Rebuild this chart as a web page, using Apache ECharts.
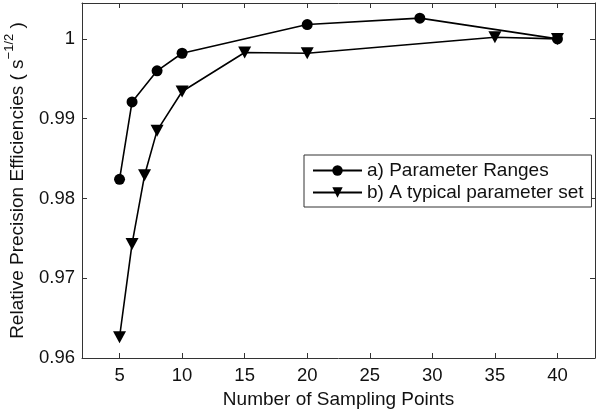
<!DOCTYPE html>
<html>
<head>
<meta charset="utf-8">
<script src="https://cdn.jsdelivr.net/npm/echarts@6/dist/echarts.min.js"></script>
<style>html,body{margin:0;padding:0;background:#fff}#c{width:600px;height:409px}</style>
</head>
<body>
<div id="c"></div>
<script>
var xA = [5, 6, 8, 10, 20, 29, 40];
var yA = [0.9824, 0.9921, 0.9960, 0.9982, 1.0018, 1.0026, 1.0000];
var xB = [5, 6, 7, 8, 10, 15, 20, 35, 40];
var yB = [0.9626, 0.9743, 0.9829, 0.9885, 0.9934, 0.9983, 0.9982, 1.0002, 1.0000];
var xTicks = [5, 10, 15, 20, 25, 30, 35, 40];
var yTicks = [0.96, 0.97, 0.98, 0.99, 1];
var nameA = 'a) Parameter Ranges';
var nameB = 'b) A typical parameter set';
var xTitle = 'Number of Sampling Points';

function pairs(xs, ys) { return xs.map(function (x, i) { return [x, ys[i]]; }); }

var font = 'Liberation Sans, Arial, sans-serif';
var axisCol = '#333';
var tickFs = 18.5, titleFs = 19;
var chart = echarts.init(document.getElementById('c'), null, {renderer: 'canvas'});
function xAxisCfg(pos, showLabel) {
  return {
    type: 'value', position: pos, min: 2, max: 43,
    axisLine: {show: true, onZero: false, lineStyle: {color: axisCol, width: 1}},
    axisTick: {show: true, inside: true, length: 5, customValues: xTicks, lineStyle: {color: axisCol}},
    axisLabel: {show: showLabel, customValues: xTicks, margin: 8, color: '#111', fontSize: tickFs, fontFamily: font},
    splitLine: {show: false}
  };
}
function yAxisCfg(pos, showLabel) {
  return {
    type: 'value', position: pos, min: 0.96, max: 1.0045,
    axisLine: {show: true, onZero: false, lineStyle: {color: axisCol, width: 1}},
    axisTick: {show: true, inside: true, length: 5, customValues: yTicks, lineStyle: {color: axisCol}},
    axisLabel: {show: showLabel, customValues: yTicks, margin: 7, color: '#111', fontSize: tickFs, fontFamily: font},
    splitLine: {show: false}
  };
}
var xb = xAxisCfg('bottom', true);
xb.name = xTitle; xb.nameLocation = 'middle'; xb.nameGap = 22;
xb.nameTextStyle = {fontSize: titleFs, color: '#111', fontFamily: font};
var xt = xAxisCfg('top', false);
var yl = yAxisCfg('left', true);
yl.name = '{n|Relative Precision Efficiencies ( s}{s|\u22121/2}{n| )}';
yl.nameLocation = 'middle'; yl.nameGap = 55; yl.nameRotate = 90;
yl.nameTextStyle = {fontSize: titleFs, color: '#111', fontFamily: font,
  rich: {n: {fontSize: titleFs, fontFamily: font, color: '#111', verticalAlign: 'bottom', lineHeight: 24},
         s: {fontSize: 13, fontFamily: font, color: '#111', verticalAlign: 'top', lineHeight: 24}}};
var yr = yAxisCfg('right', false);

chart.setOption({
  animation: false,
  backgroundColor: '#fff',
  grid: {left: 82, right: 5, top: 3, bottom: 51, containLabel: false, outerBoundsMode: 'none'},
  xAxis: [xb, xt],
  yAxis: [yl, yr],
  legend: {
    orient: 'vertical', left: 304, top: 155,
    padding: [6, 8, 5, 8], itemGap: 3, itemWidth: 49, itemHeight: 13,
    borderColor: '#333', borderWidth: 1, backgroundColor: '#fff',
    textStyle: {fontSize: titleFs, color: '#111', fontFamily: font},
    data: [nameA, nameB]
  },
  series: [
    {name: nameA, type: 'line', data: pairs(xA, yA), symbol: 'circle', symbolSize: 11,
     itemStyle: {color: '#000'}, lineStyle: {color: '#000', width: 1.6}, z: 3},
    {name: nameB, type: 'line', data: pairs(xB, yB), symbol: 'triangle', symbolSize: [13, 12], symbolRotate: 180,
     itemStyle: {color: '#000'}, lineStyle: {color: '#000', width: 1.6}, z: 2}
  ]
});
</script>
</body>
</html>
